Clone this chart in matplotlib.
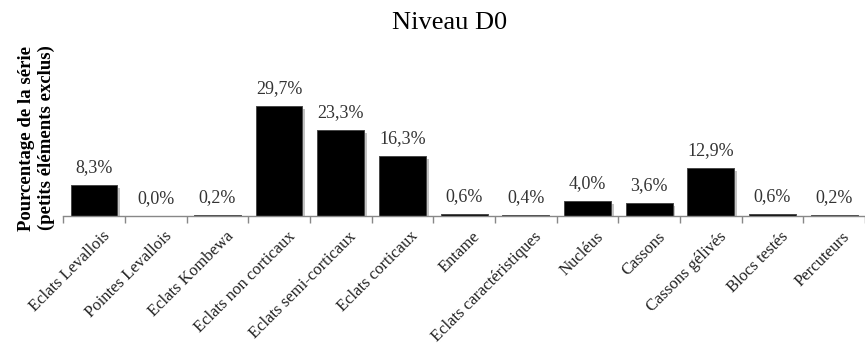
import numpy as np
import matplotlib
matplotlib.use('Agg')
import matplotlib.pyplot as plt
import matplotlib.patheffects as pe
import matplotlib.transforms as mtransforms

# Data
categories = ['Eclats Levallois', 'Pointes Levallois', 'Eclats Kombewa',
              'Eclats non corticaux', 'Eclats semi-corticaux', 'Eclats corticaux',
              'Entame', 'Eclats caractéristiques', 'Nucléus', 'Cassons',
              'Cassons gélivés', 'Blocs testés', 'Percuteurs']
values = [8.3, 0.0, 0.2, 29.7, 23.3, 16.3, 0.6, 0.4, 4.0, 3.6, 12.9, 0.6, 0.2]
value_labels = ['8,3%', '0,0%', '0,2%', '29,7%', '23,3%', '16,3%', '0,6%',
                '0,4%', '4,0%', '3,6%', '12,9%', '0,6%', '0,2%']

plt.rcParams['font.family'] = ['Liberation Serif', 'DejaVu Serif']

fig = plt.figure(figsize=(8.65, 3.49), dpi=100)
ax = fig.add_axes([0.073, 0.381, 0.927, 0.447])

x = np.arange(len(categories))
bars = ax.bar(x, values, width=0.76, color='black', edgecolor='#555555',
              linewidth=0.5,
              path_effects=[pe.withSimplePatchShadow(offset=(2, -2), shadow_rgbFace='#888888', alpha=0.5),
                            pe.Normal()])

for xi, v, lab in zip(x, values, value_labels):
    ax.text(xi, v + 2.4, lab, ha='center', va='bottom', fontsize=13, color='#333333')

ax.set_xlim(-0.5, len(categories) - 0.5)
ax.set_ylim(0, 42.2)

ax.set_xticks(x)
ax.set_xticklabels(categories, rotation=45, ha='right', rotation_mode='anchor',
                   fontsize=12, color='#222222')
ax.tick_params(axis='x', which='major', length=0, pad=9)
shift = mtransforms.ScaledTranslation(8 / 100, 0, fig.dpi_scale_trans)
for lbl in ax.get_xticklabels():
    lbl.set_transform(lbl.get_transform() + shift)
ax.set_xticks(np.arange(-0.5, len(categories), 1.0), minor=True)
ax.tick_params(axis='x', which='minor', length=5, color='#888888', width=1)
ax.set_yticks([])

for s in ['top', 'right', 'left']:
    ax.spines[s].set_visible(False)
ax.spines['bottom'].set_color('#888888')
ax.spines['bottom'].set_linewidth(1)

ax.set_ylabel('Pourcentage de la série\n(petits éléments exclus)', fontsize=13.5,
              fontweight='bold', labelpad=6)

fig.text(0.52, 0.935, 'Niveau D0', ha='center', va='center', fontsize=19)

fig.savefig('out.png', dpi=100)
